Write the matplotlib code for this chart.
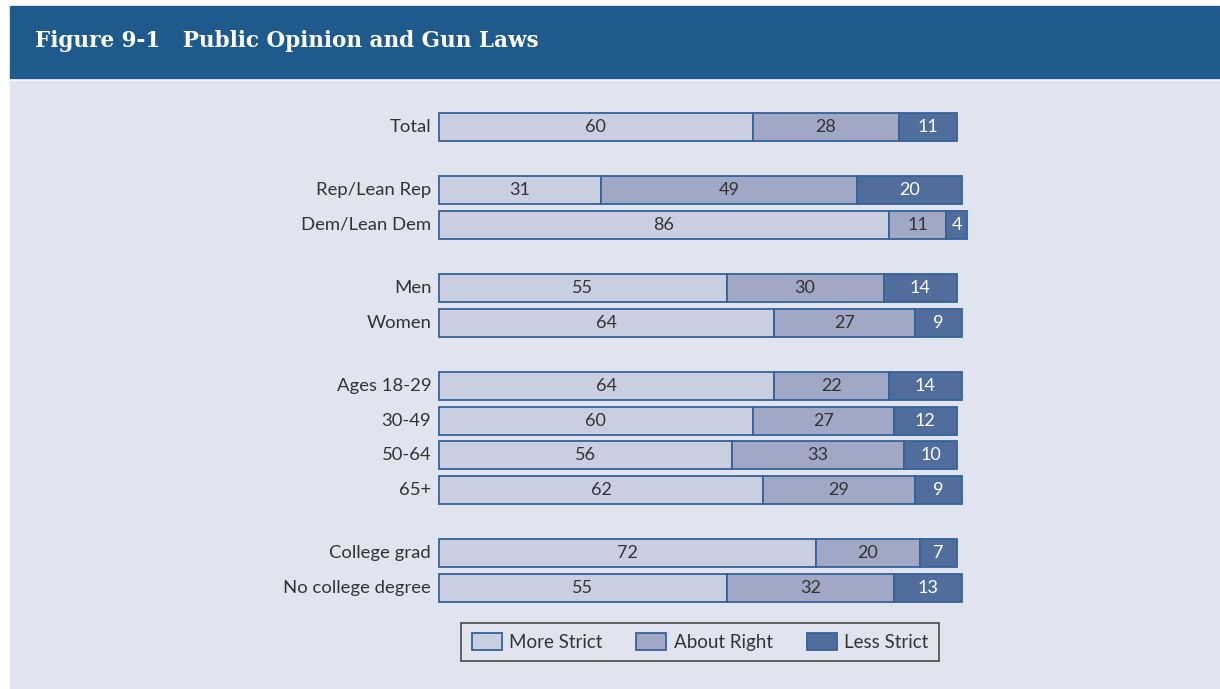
import matplotlib.pyplot as plt
from matplotlib.patches import Rectangle, Patch

# Data (percent)
groups = [
    ["Total"],
    ["Rep/Lean Rep", "Dem/Lean Dem"],
    ["Men", "Women"],
    ["Ages 18-29", "30-49", "50-64", "65+"],
    ["College grad", "No college degree"],
]
more_strict = [60, 31, 86, 55, 64, 64, 60, 56, 62, 72, 55]
about_right = [28, 49, 11, 30, 27, 22, 27, 33, 29, 20, 32]
less_strict = [11, 20, 4, 14, 9, 14, 12, 10, 9, 7, 13]
series_names = ["More Strict", "About Right", "Less Strict"]

labels = [lab for g in groups for lab in g]

# colours
header_col = "#1f5a8c"
panel_col = "#e1e4ee"
fills = ["#c9cee0", "#a0a8c5", "#506d9c"]
edge_col = "#33639a"
text_cols = ["#333333", "#333333", "#ffffff"]

plt.rcParams["font.family"] = ["Lato", "DejaVu Sans"]

W, H = 1220, 689
fig = plt.figure(figsize=(W / 100, H / 100), dpi=100)
fig.patch.set_facecolor("white")

# header band and grey panel
fig.patches.append(Rectangle((10 / W, 1 - 78 / H), 1 - 10 / W, 72 / H,
                             transform=fig.transFigure, color=header_col, zorder=-5))
fig.patches.append(Rectangle((10 / W, 0), 1 - 10 / W, 1 - 81 / H,
                             transform=fig.transFigure, color=panel_col, zorder=-5))
fig.text(35 / W, 1 - 41 / H, "Figure 9-1   Public Opinion and Gun Laws",
         family="DejaVu Serif", weight="bold", fontsize=15.5, color="white",
         va="center", ha="left")

# y positions: one unit per row, extra gap between groups
row_px = 34.5
gap = 0.84
ypos = []
p = 0.0
for gi, g in enumerate(groups):
    if gi > 0:
        p += gap
    for _ in g:
        ypos.append(p)
        p += 1

# axes placed in pixels: x 0..100 % starts at px 439 with 5.23 px/unit
px_per_unit = 5.23
ax_left, ax_right = 439, 439 + 100 * px_per_unit
ax_top, ax_bot = 100, 610
y0_px = 127
ax = fig.add_axes([ax_left / W, 1 - ax_bot / H, (ax_right - ax_left) / W, (ax_bot - ax_top) / H])
ax.set_xlim(0, 100)
ax.set_ylim((ax_bot - y0_px) / row_px, (ax_top - y0_px) / row_px)
ax.axis("off")

bar_h = 28 / row_px
left = [0] * len(labels)
for vals, fc, tc, name in zip([more_strict, about_right, less_strict], fills, text_cols, series_names):
    ax.barh(ypos, vals, left=left, height=bar_h, color=fc, edgecolor=edge_col,
            linewidth=1.3, label=name, clip_on=False)
    for y, l, v in zip(ypos, left, vals):
        ax.text(l + v / 2, y, str(v), ha="center", va="center", fontsize=13, color=tc)
    left = [l + v for l, v in zip(left, vals)]

for y, lab in zip(ypos, labels):
    ax.text(-1.5, y, lab, ha="right", va="center", fontsize=13.3, color="#333333")

handles = [Patch(facecolor=fc, edgecolor=edge_col, linewidth=1.3) for fc in fills]
leg = fig.legend(handles, series_names, loc="center", bbox_to_anchor=(700 / W, 1 - 642 / H),
                 ncol=3, frameon=True, fancybox=False, facecolor=panel_col,
                 edgecolor="#333333", fontsize=13.5, handlelength=1.6, handleheight=1.0,
                 columnspacing=1.8, handletextpad=0.4, borderpad=0.55)
leg.get_frame().set_linewidth(1.3)
for t in leg.get_texts():
    t.set_color("#333333")

fig.savefig("out.png", dpi=100)
